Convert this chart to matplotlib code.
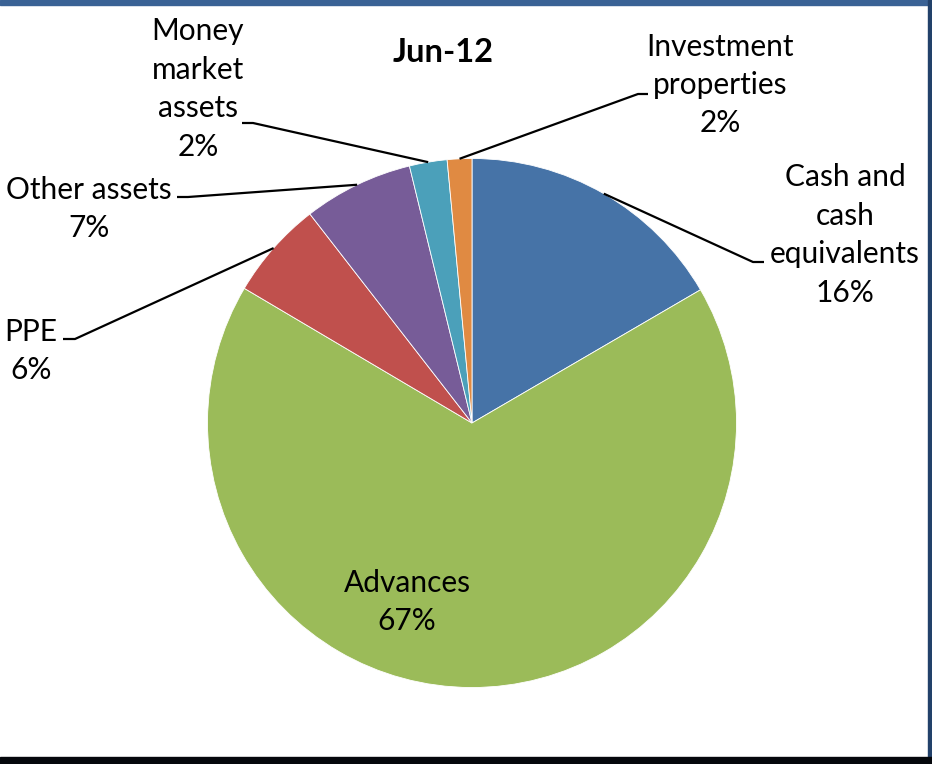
import numpy as np
import matplotlib
matplotlib.use("Agg")
import matplotlib.pyplot as plt
from matplotlib.patches import Rectangle

# slice data, clockwise from 12 o'clock
labels = ["Cash and\ncash\nequivalents", "Advances", "PPE", "Other assets",
          "Money\nmarket\nassets", "Investment\nproperties"]
values = [16.6, 66.9, 6.0, 6.7, 2.3, 1.5]
pct_text = ["16%", "67%", "6%", "7%", "2%", "2%"]
colors = ["#4673A7", "#9BBB59", "#C0504D", "#775C98", "#4BA0BA", "#E08A42"]
title = "Jun-12"

plt.rcParams['font.family'] = ['Lato', 'DejaVu Sans']

W, H = 932, 764
fig = plt.figure(figsize=(W / 100, H / 100), dpi=100)
ax = fig.add_axes([0, 0, 1, 1])

cx, cy, r = 472, H - 423, 264.5
wedges, _ = ax.pie(values, colors=colors, startangle=90, counterclock=False,
                   center=(cx, cy), radius=r, frame=True,
                   wedgeprops=dict(edgecolor='white', linewidth=0.6))
ax.set_xlim(0, W)
ax.set_ylim(0, H)
ax.axis('off')

fs = 21.5
ls = 1.45
# label text position (centre), elbow point, end of horizontal tick
layout = {
    0: ((845, 235), (753, 262), (764, 262)),
    2: ((31, 351), (75, 339), (63, 339)),
    3: ((89, 209), (188, 197), (177, 197)),
    4: ((198, 89), (253, 123), (242, 123)),
    5: ((720, 85), (638, 94), (648, 94)),
}
for i, w in enumerate(wedges):
    txt = labels[i] + "\n" + pct_text[i]
    if i == 1:
        ax.text(407, H - 602, txt, ha='center', va='center', fontsize=fs,
                linespacing=ls)
        continue
    (tx, ty), (ex, ey), (hx, hy) = layout[i]
    mid = np.deg2rad((w.theta1 + w.theta2) / 2)
    sx, sy = cx + r * np.cos(mid), cy + r * np.sin(mid)
    ax.plot([sx, ex, hx], [sy, H - ey, H - hy], color='black', lw=1.6,
            solid_capstyle='butt')
    ax.text(tx, H - ty, txt, ha='center', va='center', fontsize=fs,
            linespacing=ls)

ax.text(443, H - 52, title, ha='center', va='center', fontsize=23.5,
        fontweight='bold')

# window frame
fig.patches.append(Rectangle((0, 1 - 5 / H), 1, 5 / H, transform=fig.transFigure,
                             color='#3A6295', zorder=10))
fig.patches.append(Rectangle((1 - 4 / W, 0), 4 / W, 1, transform=fig.transFigure,
                             color='#22416A', zorder=10))
fig.patches.append(Rectangle((0, 0), 1, 7 / H, transform=fig.transFigure,
                             color='#05070C', zorder=11))

fig.savefig("out.png", dpi=100, facecolor='white')
